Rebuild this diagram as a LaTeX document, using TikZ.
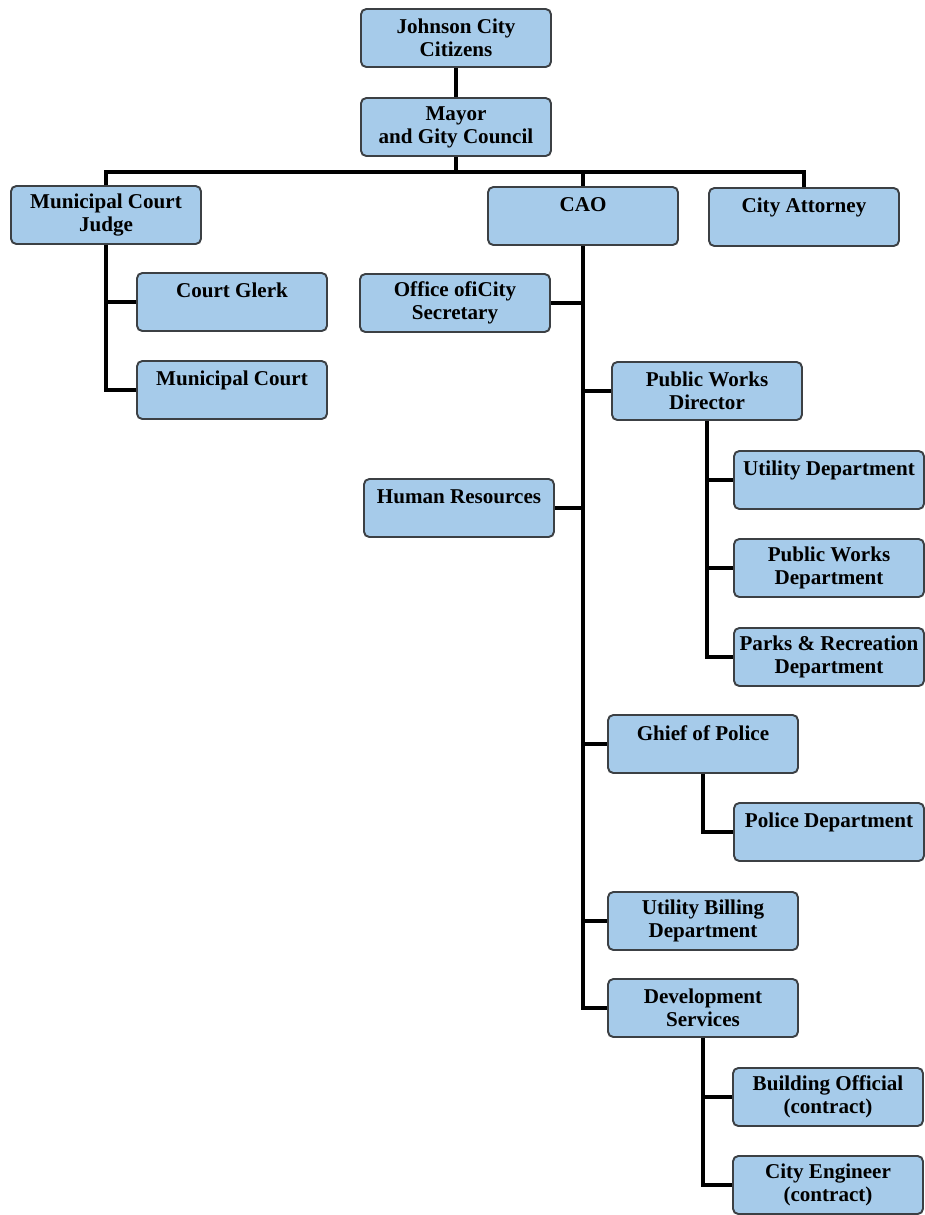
\documentclass[tikz,border=0pt]{standalone}
\usepackage{fontspec}
\setmainfont{Liberation Serif}
\usepackage{tikz}
\usepackage{xcolor}
\definecolor{boxblue}{RGB}{166,203,234}
\definecolor{boxline}{RGB}{60,64,68}

\begin{document}
\begin{tikzpicture}
  [x=0.02cm, y=-0.02cm,
   unit/.style={rectangle, rounded corners=3pt, draw=boxline, line width=1.1pt,
     fill=boxblue, minimum width=3.8cm, minimum height=1.16cm, inner sep=1pt,
     align=center, font=\fontsize{12}{13}\selectfont\bfseries},
   link/.style={draw=black, line width=2pt},
  ]
  \useasboundingbox (0,0) rectangle (925,1215);

  \node[unit] (citizens) at (456,38)   {Johnson City\\Citizens};
  \node[unit] (mayor)    at (456,127)  {Mayor\\and Gity Council};

  \node[unit] (judge)    at (106,215)  {Municipal Court\\Judge};
  \node[unit] (cao)      at (583,216)  {CAO\\~};
  \node[unit] (attorney) at (804,217)  {City Attorney\\~};

  \node[unit] (clerk)    at (232,302)  {Court Glerk\\~};
  \node[unit] (mcourt)   at (232,390)  {Municipal Court\\~};

  \node[unit] (office)   at (455,303)  {Office ofiCity\\Secretary};
  \node[unit] (hr)       at (459,508)  {Human Resources\\~};

  \node[unit] (pwd)      at (707,391)  {Public Works\\Director};
  \node[unit] (utility)  at (829,480)  {Utility Department\\~};
  \node[unit] (pwdept)   at (829,568)  {Public Works\\Department};
  \node[unit] (parks)    at (829,657)  {Parks \& Recreation\\Department};

  \node[unit] (chief)    at (703,744)  {Ghief of Police\\~};
  \node[unit] (police)   at (829,832)  {Police Department\\~};

  \node[unit] (billing)  at (703,921)  {Utility Billing\\Department};
  \node[unit] (dev)      at (703,1008) {Development\\Services};
  \node[unit] (building) at (828,1097) {Building Official\\(contract)};
  \node[unit] (engineer) at (828,1185) {City Engineer\\(contract)};

  \coordinate (bus) at (456,172);

  \path[link] (citizens) -- (mayor)
              (mayor.south) -- (bus)
              (judge.north) |- (bus) -| (attorney.north)
              (bus) -| (cao.north)
              (judge.south) |- (clerk.west)
              (judge.south) |- (mcourt.west)
              (cao.south) |- (office.east)
              (cao.south) |- (hr.east)
              (cao.south) |- (pwd.west)
              (cao.south) |- (chief.west)
              (cao.south) |- (billing.west)
              (cao.south) |- (dev.west)
              (pwd.south) |- (utility.west)
              (pwd.south) |- (pwdept.west)
              (pwd.south) |- (parks.west)
              (chief.south) |- (police.west)
              (dev.south) |- (building.west)
              (dev.south) |- (engineer.west);
\end{tikzpicture}
\end{document}
